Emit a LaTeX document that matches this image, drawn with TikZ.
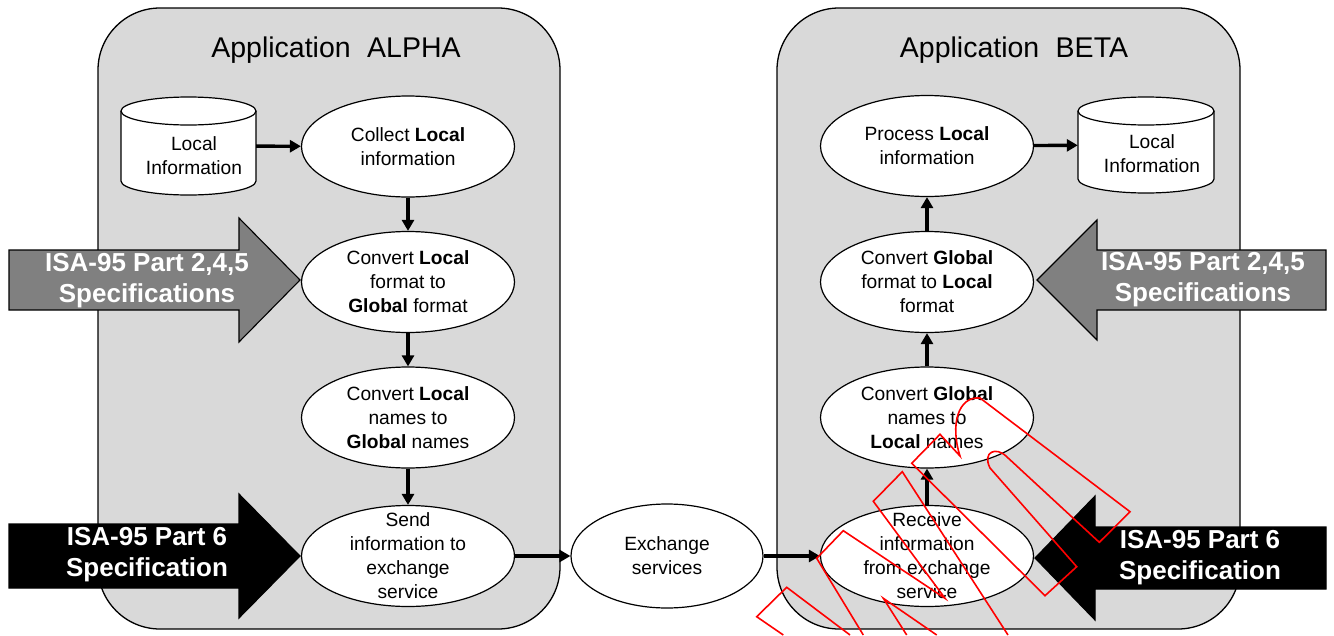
\documentclass[tikz,border=0pt]{standalone}
\usepackage{fontspec}
\setmainfont{Liberation Sans}
\usetikzlibrary{arrows.meta,shapes.geometric}
\definecolor{boxgray}{HTML}{D9D9D9}
\definecolor{isagray}{HTML}{808080}
\begin{document}
\begin{tikzpicture}[x=1pt,y=-1pt,
  every node/.style={font=\fontsize{19.2}{24}\selectfont},
  appbox/.style={draw=black, line width=1.3pt, fill=boxgray, rounded corners=62pt},
  proc/.style={draw=black, line width=1.2pt, fill=white, ellipse, minimum width=213pt, minimum height=101pt, inner sep=0pt},
  plabel/.style={align=center, inner sep=0pt},
  flow/.style={-{Triangle[length=11pt,width=12pt]}, line width=3.4pt},
  isashape/.style={draw=black, line width=1.1pt},
  isatext/.style={text=white, align=center, font=\fontsize{26}{31}\selectfont\bfseries},
  title/.style={font=\fontsize{28.5}{32}\selectfont},
  dbshape/.style={draw=black, line width=1.2pt, fill=white},
  wm/.style={draw=red, line width=1.6pt, line join=miter}
]
\useasboundingbox[fill=white] (0,0) rectangle (1334,635);

% application boxes
\draw[appbox] (98,8) rectangle (560,629);
\draw[appbox] (777,8) rectangle (1240,629);
\node[title] (tA) at (336,50) {Application\hspace{0.3em} ALPHA};
\node[title] (tB) at (1014,50) {Application\hspace{0.3em} BETA};

% ISA arrows
\draw[isashape, fill=isagray] (9,250) -- (239,250) -- (239,218) -- (300,280) -- (239,342) -- (239,310) -- (9,310) -- cycle;
\node[isatext] (isaL1) at (147,281) {ISA-95 Part 2,4,5\\Specifications};
\draw[isashape, fill=black] (9,524) -- (239,524) -- (239,494) -- (300,556) -- (239,618) -- (239,588) -- (9,588) -- cycle;
\node[isatext] (isaL2) at (147,555) {ISA-95 Part 6\\Specification};
\draw[isashape, fill=isagray] (1326,250) -- (1097,250) -- (1097,220) -- (1037,280) -- (1097,340) -- (1097,310) -- (1326,310) -- cycle;
\node[isatext] (isaR1) at (1203,280) {ISA-95 Part 2,4,5\\Specifications};
\draw[isashape, fill=black] (1326,527) -- (1095,527) -- (1095,496) -- (1035,558) -- (1095,620) -- (1095,589) -- (1326,589) -- cycle;
\node[isatext] (isaR2) at (1200,558) {ISA-95 Part 6\\Specification};

% databases
\draw[dbshape] (121,111) -- (121,181) arc (180:0:67.5 and 14) -- (256,111) arc (0:-180:67.5 and 14) -- cycle;
\draw[line width=1.2pt] (121,111) arc (180:0:67.5 and 14);
\node[inner sep=0pt, minimum width=135pt, minimum height=98pt] (dbL) at (188.5,146) {};
\node[plabel] (dbLt) at (194,156) {Local\\Information};

\draw[dbshape] (1078,111) -- (1078,179) arc (180:0:68 and 14) -- (1214,111) arc (0:-180:68 and 14) -- cycle;
\draw[line width=1.2pt] (1078,111) arc (180:0:68 and 14);
\node[inner sep=0pt, minimum width=136pt, minimum height=97pt] (dbR) at (1146,145) {};
\node[plabel] (dbRt) at (1152,154) {Local\\Information};

% process ellipses, left
\node[proc, label={[plabel]center:Collect \textbf{Local}\\information}] (collect) at (408,146.5) {};
\node[proc, label={[plabel]center:Convert \textbf{Local}\\format to\\\textbf{Global} format}] (convL) at (408,282) {};
\node[proc, label={[plabel]center:Convert \textbf{Local}\\names to\\\textbf{Global} names}] (namesL) at (408,417.5) {};
\node[proc, label={[plabel]center:Send\\information to\\exchange\\service}] (send) at (408,556) {};

% exchange
\node[proc, minimum width=192pt, minimum height=104pt, label={[plabel]center:Exchange\\services}] (exch) at (667,556) {};

% process ellipses, right
\node[proc, label={[plabel]center:Process \textbf{Local}\\information}] (procR) at (927,146) {};
\node[proc, label={[plabel]center:Convert \textbf{Global}\\format to \textbf{Local}\\format}] (convG) at (927,282) {};
\node[proc, label={[plabel]center:Convert \textbf{Global}\\names to\\\textbf{Local} names}] (namesG) at (927,417.5) {};
\node[proc, label={[plabel]center:Receive\\information\\from exchange\\service}] (recv) at (927,556) {};

% connectors
\draw[flow] (dbL) -- (collect);
\draw[flow] (collect) -- (convL);
\draw[flow] (convL) -- (namesL);
\draw[flow] (namesL) -- (send);
\draw[flow] (send) -- (exch);
\draw[flow] (exch) -- (recv);
\draw[flow] (recv) -- (namesG);
\draw[flow] (namesG) -- (convG);
\draw[flow] (convG) -- (procR);
\draw[flow] (procR) -- (dbR);

% watermark outline
\draw[wm] (911.7,463.3) -- (940,434.3) -- (960,456) .. controls (950,425) and (958,396) .. (980,398) -- (1130,511.7) -- (1099.3,542.3) -- (1006.7,456.7) .. controls (996,446) and (982,452) .. (990,468) -- (1076.7,566.7) -- (1045,595.7) -- cycle;
\draw[wm] (1008,635) -- (902.3,471.7) -- (873.3,501.3) -- (945,598.3) -- (843.3,530.7) -- (816.7,558.3) -- (863.3,635);
\draw[wm] (906.7,635) -- (883.3,598.3) -- (936.7,635);
\draw[wm] (783.3,635) -- (756.7,616.7) -- (786.7,587.3) -- (850,635);
\end{tikzpicture}
\end{document}
